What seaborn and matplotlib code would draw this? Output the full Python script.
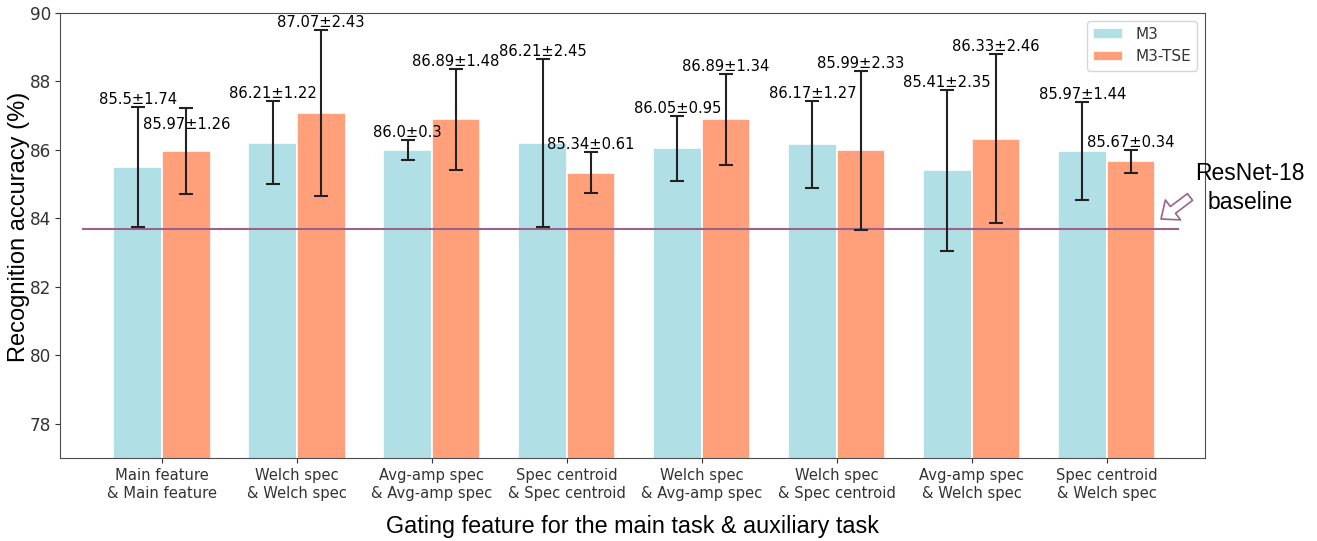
import matplotlib
matplotlib.use("Agg")
import matplotlib.pyplot as plt
import seaborn as sns
import pandas as pd
import numpy as np

categories = ["Main feature\n& Main feature", "Welch spec\n& Welch spec",
              "Avg-amp spec\n& Avg-amp spec", "Spec centroid\n& Spec centroid",
              "Welch spec\n& Avg-amp spec", "Welch spec\n& Spec centroid",
              "Avg-amp spec\n& Welch spec", "Spec centroid\n& Welch spec"]
m3_mean = [85.5, 86.21, 86.0, 86.21, 86.05, 86.17, 85.41, 85.97]
m3_std = [1.74, 1.22, 0.3, 2.45, 0.95, 1.27, 2.35, 1.44]
tse_mean = [85.97, 87.07, 86.89, 85.34, 86.89, 85.99, 86.33, 85.67]
tse_std = [1.26, 2.43, 1.48, 0.61, 1.34, 2.33, 2.46, 0.34]
series = ["M3", "M3-TSE"]
baseline = 83.68

sns.set_style("ticks", {"axes.edgecolor": "0.3"})
plt.rcParams["font.family"] = ["DejaVu Sans"]

df = pd.DataFrame({
    "cat": categories * 2,
    "model": [series[0]] * len(categories) + [series[1]] * len(categories),
    "acc": m3_mean + tse_mean,
})

fig = plt.figure(figsize=(13.17, 5.41), dpi=100)
ax = fig.add_axes([60 / 1317, 83 / 541, 1145 / 1317, 445 / 541])

sns.barplot(data=df, x="cat", y="acc", hue="model", ax=ax, width=0.72,
            palette=["#b0e0e6", "#ffa07a"], errorbar=None,
            edgecolor="white", linewidth=1.2, saturation=1)

means = [m3_mean, tse_mean]
stds = [m3_std, tse_std]
bar_conts = list(ax.containers)
for si, cont in enumerate(bar_conts):
    xs = [p.get_x() + p.get_width() / 2 for p in cont.patches]
    ax.errorbar(xs, means[si], yerr=stds[si], fmt="none", ecolor="#222222",
                elinewidth=1.5, capsize=4.7, capthick=1.5, zorder=4)
    for i, x in enumerate(xs):
        top = means[si][i] + stds[si][i]
        if si == 1 and i == 0:
            ytxt, va = means[si][i] + 0.77, "center"
        else:
            ytxt, va = top + 0.0, "bottom"
        ax.text(x, ytxt, f"{means[si][i]}±{stds[si][i]}", ha="center", va=va,
                fontsize=10.6, color="black", zorder=5)

ax.hlines(baseline, -0.59, 7.54, color="#9b6289", lw=1.5, zorder=3.5)

ax.set_ylim(77, 90)
ax.set_xlim(-0.756, 7.73)
ax.set_yticks([78, 80, 82, 84, 86, 88, 90])
ax.tick_params(axis="y", labelsize=12.2, colors="0.2", length=3.5, pad=3)
ax.tick_params(axis="x", labelsize=10.6, colors="0.2", length=3.5, pad=4)
ax.set_ylabel("Recognition accuracy (%)", family="Liberation Sans", fontsize=17,
              color="black")
ax.yaxis.set_label_coords(-0.026, 0.52)
ax.set_xlabel("Gating feature for the main task & auxiliary task", family="Liberation Sans",
              fontsize=16.8, color="black", labelpad=10)

leg = ax.legend(loc="upper right", fontsize=11, title=None, frameon=True)
for t in leg.get_texts():
    t.set_color("0.2")

ax.annotate("", xy=(1161, 541 - 219), xytext=(1190, 541 - 197), xycoords="figure pixels",
            textcoords="figure pixels", annotation_clip=False,
            arrowprops=dict(arrowstyle="simple,head_length=0.6,head_width=1.0,tail_width=0.34",
                            fc="white", ec="#9b6289", lw=1.2, shrinkA=0, shrinkB=0,
                            mutation_scale=18))
fig.text(1250 / 1317, (541 - 188) / 541, "ResNet-18\nbaseline", ha="center", va="center",
         family="Liberation Sans", fontsize=16.5, linespacing=1.3, color="black")

fig.savefig("out.png", dpi=100)
